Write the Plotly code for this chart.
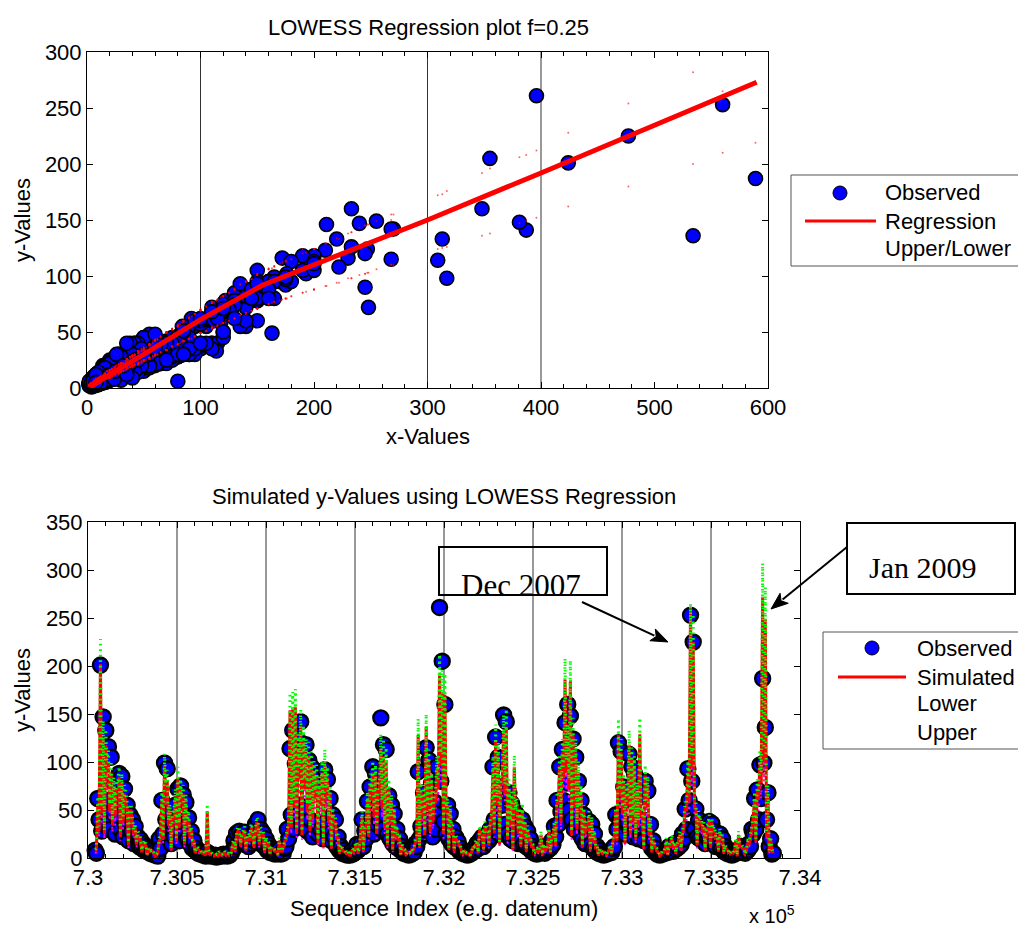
import math
import plotly.graph_objects as go

W, H = 1018, 926
SANS = "Liberation Sans, Arial, sans-serif"
SERIF = "Liberation Serif, Times New Roman, serif"

# ---------------- data ----------------
# Readings are taken on two interleaved date grids: set A every 15 days
# from day 730040, set B seven days after each A reading.

# observed response, set A
obs_y = [
    8, 62, 201, 147, 133, 116, 105, 78, 59, 88, 85, 72, 55, 45, 40, 33, 22, 19, 15, 12, 10, 8, 6,
    3, 20, 60, 99, 93, 45, 38, 55, 72, 75, 66, 58, 42, 28, 18, 10, 7,
    5, 4, 6, 4, 3, 3, 2, 3, 4, 3, 4, 5,
    18, 26, 28, 25, 27, 22, 20, 24, 35, 40, 30, 26, 20, 14, 10, 8, 7, 9, 6, 10,
    30, 114, 133, 98, 123, 142, 116, 118, 102, 95, 88, 84, 70, 78, 92, 82, 62, 45, 40, 22, 12, 8,
    5, 4, 7, 5, 14, 10, 40, 28, 59, 74, 95, 88, 60, 146, 118, 113, 65, 55, 46, 30, 20, 12,
    8, 6, 5, 7, 15,
    90, 33, 68, 115, 102, 78, 59, 95, 261, 205, 160, 55, 46, 30, 22, 17, 10,
    6, 5, 4, 6, 10, 15, 18, 22, 20, 25, 30,
    95, 126, 105, 74, 149, 142, 68, 57, 49, 45, 38, 40, 33, 28, 20, 12,
    8, 6, 10, 12, 8, 14, 18,
    33, 60, 95, 113, 141, 160, 148, 124, 105, 80, 60, 45, 30, 38, 35, 25, 12, 8,
    5, 4, 6, 8, 10,
    45, 120, 111, 74, 60, 108, 95, 88, 62, 72, 40, 80, 70, 35, 18, 10,
    5, 4, 6, 8, 12, 10, 15, 12, 18, 25, 51,
    93, 253, 225, 51, 40, 35, 30, 28, 38, 36, 28, 22, 25, 20, 12, 8, 6, 5, 7, 9, 12, 10, 8,
    15, 30, 62, 71, 97, 187, 136, 68, 20, 5,
]
# observed response, set B
obs_y2 = [
    5, 40, 28, 35, 60, 30, 48, 25, 40, 30, 22, 35, 18, 28, 15, 20, 12, 10, 8, 7, 5, 4, 3,
    2, 10, 25, 40, 20, 15, 22, 30, 18, 35, 25, 20, 15, 10, 8, 5, 4,
    3, 2, 3, 2, 2, 1, 2, 2, 3, 2, 3,
    8, 12, 15, 18, 16, 14, 12, 15, 18, 22, 16, 14, 12, 8, 6, 5, 4, 5, 4, 5, 12,
    20, 45, 30, 40, 55, 35, 50, 28, 40, 22, 35, 25, 30, 20, 38, 25, 18, 22, 12, 8, 5, 4,
    3, 3, 4, 6, 8, 15, 12, 20, 30, 40, 25, 35, 40, 30, 45, 25, 20, 15, 12, 10, 8, 5, 4, 3, 4, 6,
    12, 20, 25, 35, 28, 40, 22, 30, 45, 80, 38, 25, 20, 15, 12, 10, 7, 5, 4, 3, 4, 6, 8, 10, 14, 12, 16, 18,
    22, 40, 30, 25, 55, 35, 25, 20, 18, 22, 15, 20, 14, 12, 10, 7, 5, 4, 5, 6, 5, 8, 10, 14,
    22, 35, 48, 60, 78, 50, 40, 30, 35, 25, 20, 15, 18, 14, 10, 7, 5, 4, 3, 4, 5, 6,
    12, 30, 40, 28, 25, 35, 30, 22, 28, 20, 25, 18, 30, 15, 10, 7, 4, 3, 4, 5, 6, 8, 7, 9, 11, 14, 20, 30,
    60, 80, 30, 22, 20, 18, 15, 20, 18, 15, 12, 14, 10, 7, 5, 4, 3, 4, 6, 7, 6, 5, 8, 12, 25, 30, 40, 62, 99, 40, 12, 4,
]

# predictor value paired with each observation
pred_x = [
    12, 92, 424, 240, 220, 172, 150, 122, 118, 140, 130, 110, 84, 80, 60, 52, 40, 30, 22, 20, 16, 12, 9,
    5, 30, 100, 165, 135, 80, 70, 105, 140, 120, 110, 95, 70, 48, 28, 18, 12,
    8, 6, 80, 7, 5, 4, 3, 5, 6, 5, 7, 8,
    28, 40, 45, 36, 48, 34, 30, 42, 50, 58, 46, 40, 32, 24, 16, 14, 10, 30, 10, 28,
    50, 309, 313, 317, 210, 270, 230, 200, 193, 170, 150, 145, 125, 150, 175, 140, 110, 75, 62, 36, 20, 12,
    8, 6, 12, 8, 25, 16, 70, 46, 100, 130, 150, 145, 115, 211, 190, 180, 120, 95, 80, 50, 32, 20,
    13, 10, 8, 11, 30,
    245, 114, 110, 268, 176, 130, 95, 160, 396, 355, 348, 90, 80, 50, 36, 28, 16,
    10, 8, 7, 10, 18, 28, 50, 40, 55, 45, 60,
    160, 233, 190, 130, 255, 268, 120, 100, 163, 90, 75, 82, 60, 50, 32, 20,
    13, 10, 40, 22, 14, 45, 32,
    55, 100, 165, 200, 387, 233, 381, 247, 200, 150, 110, 80, 55, 70, 62, 42, 20, 13,
    8, 7, 10, 20, 30,
    80, 245, 200, 130, 112, 222, 180, 160, 115, 248, 75, 145, 125, 60, 30, 16,
    8, 7, 10, 30, 20, 35, 25, 22, 40, 42, 85,
    150, 560, 477, 85, 70, 60, 55, 50, 65, 60, 48, 38, 45, 34, 20, 13, 10, 8, 30, 40, 20, 16, 13,
    25, 50, 100, 120, 175, 589, 534, 110, 32, 8,
]
pred_x2 = [
    12, 45, 75, 40, 150, 80, 55, 70, 110, 35, 60, 100, 20, 80, 40, 22, 35, 9, 25, 4, 14, 10, 2,
    6, 30, 30, 110, 55, 12, 65, 28, 50, 90, 22, 55, 35, 25, 6, 14, 9,
    8, 3, 10, 6, 2, 4, 7, 3, 9, 5, 2,
    20, 10, 45, 18, 40, 12, 35, 50, 16, 60, 22, 42, 8, 22, 5, 15, 10, 3, 12, 16, 30,
    55, 50, 85, 42, 140, 38, 120, 80, 45, 65, 100, 25, 90, 18, 105, 60, 15, 58, 30, 6, 14, 8,
    9, 2, 12, 18, 6, 40, 10, 55, 35, 100, 70, 40, 115, 85, 50, 20, 60, 12, 35, 28, 4, 12, 3, 7, 11, 15,
    30, 16, 70, 38, 80, 45, 60, 95, 120, 165, 40, 75, 14, 45, 8, 28, 20, 3, 10, 6, 2, 16, 22, 6, 38, 12, 45, 20,
    65, 42, 90, 22, 135, 110, 30, 55, 14, 70, 40, 18, 38, 10, 30, 18, 4, 12, 14, 3, 10, 20, 6, 35,
    20, 95, 60, 140, 150, 120, 38, 85, 48, 75, 16, 40, 55, 12, 26, 16, 4, 11, 8, 2, 13, 5,
    35, 28, 105, 75, 24, 90, 40, 62, 30, 55, 70, 15, 85, 38, 8, 20, 12, 2, 9, 14, 4, 22, 16, 6, 30, 12, 50, 80,
    95, 160, 85, 20, 55, 45, 12, 48, 16, 42, 30, 10, 28, 6, 14, 3, 8, 10, 2, 18, 15, 4, 24, 35, 70, 26, 100, 130, 175, 35, 8, 12,
]

# LOWESS fitted (simulated) response
sim_y = [
    7, 56, 202, 126, 118, 99, 89, 74, 72, 84, 78, 67, 51, 49, 37, 32, 24, 18, 13, 12, 10, 7, 5,
    3, 18, 61, 96, 81, 49, 43, 64, 84, 72, 67, 58, 43, 29, 17, 11, 7,
    5, 4, 49, 4, 3, 3, 2, 3, 4, 3, 4, 5,
    17, 24, 27, 22, 29, 21, 18, 26, 30, 35, 28, 24, 20, 15, 10, 9, 6, 18, 6, 17,
    30, 154, 155, 157, 114, 138, 122, 110, 107, 98, 89, 86, 75, 89, 100, 84, 67, 46, 38, 22, 12, 7,
    5, 4, 7, 5, 15, 10, 43, 28, 61, 78, 89, 86, 70, 114, 106, 102, 72, 58, 49, 30, 20, 12,
    8, 6, 5, 7, 18,
    128, 69, 67, 137, 100, 78, 58, 94, 190, 173, 170, 55, 49, 30, 22, 17, 10,
    6, 5, 4, 6, 11, 17, 30, 24, 33, 27, 37,
    94, 123, 106, 78, 132, 137, 72, 61, 95, 55, 46, 50, 37, 30, 20, 12,
    8, 6, 24, 13, 9, 27, 20,
    33, 61, 96, 110, 186, 123, 184, 129, 110, 89, 67, 49, 33, 43, 38, 26, 12, 8,
    5, 4, 6, 12, 18,
    49, 128, 110, 78, 68, 118, 102, 94, 70, 129, 46, 86, 75, 37, 18, 10,
    5, 4, 6, 18, 12, 21, 15, 13, 24, 26, 52,
    89, 260, 225, 52, 43, 37, 33, 30, 40, 37, 29, 23, 27, 21, 12, 8, 6, 5, 18, 24, 12, 10, 8,
    15, 30, 61, 72, 100, 272, 249, 67, 20, 5,
]
sim_y2 = [
    8, 28, 46, 25, 89, 49, 34, 43, 67, 22, 37, 61, 13, 49, 25, 14, 22, 6, 16, 3, 9, 7, 2,
    5, 19, 19, 67, 34, 8, 40, 18, 31, 55, 14, 34, 22, 16, 5, 9, 6,
    6, 3, 7, 5, 2, 3, 5, 3, 6, 4, 2,
    13, 7, 28, 12, 25, 8, 22, 31, 11, 37, 14, 26, 6, 14, 4, 10, 7, 3, 8, 11, 19,
    34, 31, 52, 26, 83, 24, 72, 49, 28, 40, 61, 16, 55, 12, 64, 37, 10, 36, 19, 5, 9, 6,
    6, 2, 8, 12, 5, 25, 7, 34, 22, 61, 43, 25, 69, 52, 31, 13, 37, 8, 22, 18, 3, 8, 3, 5, 8, 10,
    19, 11, 43, 24, 49, 28, 37, 58, 72, 96, 25, 46, 9, 28, 6, 18, 13, 3, 7, 5, 2, 11, 14, 5, 24, 8, 28, 13,
    40, 26, 55, 14, 81, 67, 19, 34, 9, 43, 25, 12, 24, 7, 19, 12, 3, 8, 9, 3, 7, 13, 5, 22,
    13, 58, 37, 83, 89, 72, 24, 52, 30, 46, 11, 25, 34, 8, 17, 11, 3, 8, 6, 2, 9, 4,
    22, 18, 64, 46, 15, 55, 25, 38, 19, 34, 43, 10, 52, 24, 6, 13, 8, 2, 6, 9, 3, 14, 11, 5, 19, 8, 31, 49,
    58, 94, 52, 13, 34, 28, 8, 30, 11, 26, 19, 7, 18, 5, 9, 3, 6, 7, 2, 12, 10, 3, 15, 22, 43, 17, 61, 78, 100, 22, 6, 8,
]

# upper prediction bound
upper_y = [
    9, 64, 228, 143, 134, 112, 101, 84, 81, 95, 88, 76, 58, 55, 42, 36, 28, 21, 15, 14, 11, 8, 6,
    4, 21, 69, 109, 92, 56, 49, 72, 95, 82, 76, 66, 49, 33, 19, 12, 8,
    6, 5, 56, 5, 4, 3, 3, 4, 5, 4, 5, 6,
    19, 28, 31, 25, 33, 24, 21, 29, 34, 40, 32, 28, 22, 17, 11, 10, 7, 21, 7, 19,
    34, 172, 173, 176, 129, 155, 138, 124, 121, 111, 101, 97, 85, 101, 113, 95, 76, 52, 43, 25, 14, 8,
    6, 5, 8, 6, 17, 11, 49, 32, 69, 88, 101, 97, 79, 129, 124, 115, 82, 66, 55, 34, 22, 14,
    9, 7, 6, 8, 21,
    145, 78, 76, 150, 113, 88, 66, 106, 212, 196, 192, 62, 55, 34, 25, 19, 11,
    7, 6, 5, 7, 12, 19, 34, 28, 38, 31, 42,
    106, 139, 120, 88, 149, 155, 82, 69, 107, 62, 52, 57, 42, 34, 22, 14,
    9, 7, 28, 15, 10, 31, 22,
    38, 69, 108, 124, 208, 139, 206, 146, 124, 101, 76, 55, 38, 49, 43, 29, 14, 9,
    6, 5, 7, 14, 21,
    55, 145, 124, 88, 77, 133, 115, 106, 79, 146, 52, 97, 85, 42, 21, 11,
    6, 5, 7, 21, 14, 24, 17, 15, 28, 29, 59,
    101, 265, 254, 59, 49, 42, 38, 34, 45, 42, 33, 26, 31, 24, 14, 9, 7, 6, 21, 28, 14, 11, 9,
    17, 34, 69, 82, 113, 307, 282, 76, 22, 6,
]
upper_y2 = [
    10, 33, 53, 29, 102, 56, 39, 50, 77, 26, 43, 70, 16, 56, 29, 17, 26, 8, 19, 4, 11, 9, 3,
    6, 22, 22, 77, 39, 10, 46, 21, 36, 63, 17, 39, 26, 19, 6, 11, 8,
    8, 4, 9, 6, 3, 4, 7, 4, 8, 5, 3,
    16, 9, 33, 15, 29, 10, 26, 36, 13, 43, 17, 30, 8, 17, 5, 12, 9, 4, 10, 13, 22,
    39, 36, 60, 30, 95, 28, 82, 56, 33, 46, 70, 19, 63, 15, 73, 43, 12, 42, 22, 7, 11, 8,
    8, 3, 10, 15, 6, 29, 9, 39, 26, 70, 50, 29, 79, 60, 36, 16, 43, 10, 26, 21, 4, 10, 4, 7, 10, 12,
    22, 13, 50, 28, 56, 33, 43, 66, 82, 109, 29, 53, 11, 33, 8, 21, 16, 4, 9, 6, 3, 13, 17, 6, 28, 10, 33, 16,
    46, 30, 63, 17, 93, 77, 22, 39, 11, 50, 29, 15, 28, 9, 22, 15, 4, 10, 11, 4, 9, 16, 6, 26,
    16, 66, 43, 95, 102, 82, 28, 60, 35, 53, 13, 29, 39, 10, 20, 13, 4, 10, 8, 3, 11, 5,
    26, 21, 73, 53, 18, 63, 29, 44, 22, 39, 50, 12, 60, 28, 8, 16, 10, 3, 8, 11, 4, 17, 13, 6, 22, 10, 36, 56,
    66, 107, 60, 16, 39, 33, 10, 35, 13, 30, 22, 9, 21, 6, 11, 4, 8, 9, 3, 15, 12, 4, 18, 26, 50, 20, 70, 89, 114, 26, 8, 10,
]

# lower prediction bound
lower_y = [
    5, 44, 162, 101, 94, 79, 71, 59, 57, 67, 62, 53, 41, 39, 29, 25, 19, 14, 10, 9, 8, 5, 4,
    2, 14, 49, 77, 65, 39, 34, 51, 67, 58, 53, 46, 34, 23, 13, 8, 5,
    4, 3, 39, 3, 2, 2, 1, 2, 3, 2, 3, 4,
    13, 19, 21, 17, 23, 16, 14, 20, 24, 28, 22, 19, 15, 11, 8, 7, 5, 14, 5, 13,
    24, 124, 125, 126, 91, 110, 98, 88, 86, 78, 71, 69, 60, 71, 80, 67, 54, 37, 30, 18, 9, 6,
    4, 3, 6, 4, 12, 8, 34, 22, 49, 62, 71, 69, 56, 91, 85, 82, 58, 46, 39, 24, 15, 9,
    6, 5, 4, 5, 14,
    102, 55, 54, 110, 80, 62, 46, 75, 152, 138, 136, 44, 39, 24, 18, 13, 8,
    5, 4, 3, 5, 8, 13, 24, 19, 26, 21, 29,
    75, 98, 85, 62, 106, 110, 58, 49, 76, 44, 37, 40, 29, 24, 15, 9,
    6, 5, 19, 10, 7, 21, 15,
    26, 49, 77, 88, 149, 98, 147, 103, 88, 71, 54, 39, 26, 34, 30, 20, 9, 6,
    4, 3, 5, 9, 14,
    39, 102, 88, 62, 54, 94, 82, 75, 56, 103, 37, 69, 60, 29, 14, 8,
    4, 3, 5, 14, 9, 17, 12, 10, 19, 20, 42,
    71, 210, 180, 42, 34, 29, 26, 24, 32, 29, 23, 18, 21, 16, 9, 6, 5, 4, 14, 19, 9, 8, 6,
    12, 24, 49, 58, 80, 219, 200, 54, 15, 4,
]
lower_y2 = [
    6, 22, 37, 20, 71, 39, 27, 34, 54, 18, 30, 49, 10, 39, 20, 11, 18, 5, 13, 2, 7, 6, 2,
    4, 15, 15, 54, 27, 6, 32, 14, 25, 44, 11, 27, 18, 13, 4, 7, 5,
    5, 2, 6, 4, 2, 2, 4, 2, 5, 3, 2,
    10, 6, 22, 10, 20, 6, 18, 25, 9, 30, 11, 21, 5, 11, 3, 8, 6, 2, 6, 9, 15,
    27, 25, 42, 21, 66, 19, 58, 39, 22, 32, 49, 13, 44, 10, 51, 30, 8, 29, 15, 4, 7, 5,
    5, 2, 6, 10, 4, 20, 6, 27, 18, 49, 34, 20, 55, 42, 25, 10, 30, 6, 18, 14, 2, 6, 2, 4, 6, 8,
    15, 9, 34, 19, 39, 22, 30, 46, 58, 77, 20, 37, 7, 22, 5, 14, 10, 2, 6, 4, 2, 9, 11, 4, 19, 6, 22, 10,
    32, 21, 44, 11, 65, 54, 15, 27, 7, 34, 20, 10, 19, 6, 15, 10, 2, 6, 7, 2, 6, 10, 4, 18,
    10, 46, 30, 66, 71, 58, 19, 42, 24, 37, 9, 20, 27, 6, 14, 9, 2, 6, 5, 2, 7, 3,
    18, 14, 51, 37, 12, 44, 20, 30, 15, 27, 34, 8, 42, 19, 5, 10, 6, 2, 5, 7, 2, 11, 9, 4, 15, 6, 25, 39,
    46, 75, 42, 10, 27, 22, 6, 24, 9, 21, 15, 6, 14, 4, 7, 2, 5, 6, 2, 10, 8, 2, 12, 18, 34, 14, 49, 62, 80, 18, 5, 6,
]

first_day, step_days, offset_days = 730040, 15, 7

# LOWESS smooth (f = 0.25) for the scatter panel
curve_x = [3, 20, 50, 100, 130, 155, 175, 200, 300, 400, 500, 590]
curve_y = [1, 12, 30, 61, 78, 92, 100, 110, 150, 192, 235, 273]

# axis ticks
top_xticks = [0, 100, 200, 300, 400, 500, 600]
top_yticks = [0, 50, 100, 150, 200, 250, 300]
seq_tickvals = [730000, 730500, 731000, 731500, 732000, 732500, 733000, 733500, 734000]
seq_ticktext = ["7.3", "7.305", "7.31", "7.315", "7.32", "7.325", "7.33", "7.335", "7.34"]
seq_yticks = [0, 50, 100, 150, 200, 250, 300, 350]

# reference lines
top_vlines = [100, 300, 400]
seq_vlines = [730500, 731000, 731500, 732000, 732500, 733000, 733500]

set_a = [obs_y, pred_x, sim_y, upper_y, lower_y]
set_b = [obs_y2, pred_x2, sim_y2, upper_y2, lower_y2]
assert len({len(s) for s in set_a}) == 1 and len({len(s) for s in set_b}) == 1
assert len(obs_y2) == len(obs_y) - 1

# merge both grids in date order
days, obs, px_, sim, up, lo = [], [], [], [], [], []
for i in range(len(obs_y)):
    rows = [(first_day + step_days * i, [s[i] for s in set_a])]
    if i < len(obs_y2):
        rows.append((first_day + step_days * i + offset_days, [s[i] for s in set_b]))
    for d, (o, x, s, u, l) in rows:
        days.append(d); obs.append(o); px_.append(x); sim.append(s); up.append(u); lo.append(l)


def fx(p):
    return p / W


def fy(p):
    return 1 - p / H


fig = go.Figure()

# ---------- top panel: scatter + LOWESS ----------
fig.add_trace(go.Scatter(
    x=px_, y=obs, mode="markers", name="Observed", cliponaxis=False,
    marker=dict(size=14, color="#0000ff", line=dict(color="black", width=1.6)),
    xaxis="x", yaxis="y"))
fig.add_trace(go.Scatter(
    x=curve_x, y=curve_y, mode="lines", name="Regression",
    line=dict(color="#ff0000", width=5), xaxis="x", yaxis="y"))
fig.add_trace(go.Scatter(
    x=px_ + px_, y=up + lo, mode="markers", name="Upper/Lower",
    marker=dict(size=2, color="#ff0000", opacity=0.6), xaxis="x", yaxis="y"))

# ---------- bottom panel: series over datenum ----------
fig.add_trace(go.Scatter(
    x=days, y=obs, mode="markers", name="Observed", cliponaxis=False,
    marker=dict(size=15, color="#0000ff", line=dict(color="black", width=2.4)),
    xaxis="x2", yaxis="y2"))
fig.add_trace(go.Scatter(
    x=days, y=lo, mode="lines", name="Lower",
    line=dict(color="#ff00ff", width=2, dash="2px,4px"), xaxis="x2", yaxis="y2"))
fig.add_trace(go.Scatter(
    x=days, y=sim, mode="lines", name="Simulated",
    line=dict(color="#ff0000", width=3), xaxis="x2", yaxis="y2"))
fig.add_trace(go.Scatter(
    x=days, y=up, mode="lines", name="Upper",
    line=dict(color="#00ff00", width=3, dash="1.5px,4px"), xaxis="x2", yaxis="y2"))

axis_common = dict(
    showline=True, linecolor="black", linewidth=1, mirror="ticks",
    ticks="inside", ticklen=6, tickcolor="black", showgrid=False, zeroline=False,
    tickfont=dict(family=SANS, size=22, color="black"), automargin=False,
)

fig.update_layout(
    width=W, height=H, margin=dict(l=0, r=0, t=0, b=0),
    paper_bgcolor="white", plot_bgcolor="white", showlegend=False,
    font=dict(family=SANS, size=22, color="black"),
    xaxis=dict(domain=[fx(87), fx(768)], range=[0, 600], tickvals=top_xticks,
               minor=dict(ticks="inside", ticklen=4, dtick=20, tick0=0, tickcolor="black"),
               anchor="y", **axis_common),
    yaxis=dict(domain=[fy(388), fy(52)], range=[0, 300], tickvals=top_yticks,
               anchor="x", **axis_common),
    xaxis2=dict(domain=[fx(88), fx(800)], range=[730000, 734000],
                tickvals=seq_tickvals, ticktext=seq_ticktext,
                minor=dict(ticks="inside", ticklen=4, dtick=100, tick0=730000, tickcolor="black"),
                anchor="y2", **axis_common),
    yaxis2=dict(domain=[fy(858), fy(522)], range=[0, 350], tickvals=seq_yticks,
                anchor="x2", **axis_common),
)

shapes = []
for v in top_vlines:
    shapes.append(dict(type="line", xref="x", yref="y domain", x0=v, x1=v, y0=0, y1=1,
                       line=dict(color="#333333", width=1), layer="below"))
for v in seq_vlines:
    shapes.append(dict(type="line", xref="x2", yref="y2 domain", x0=v, x1=v, y0=0, y1=1,
                       line=dict(color="#333333", width=1), layer="below"))

# legend frames and keys
shapes.append(dict(type="rect", xref="paper", yref="paper", x0=fx(791), x1=fx(1030),
                   y0=fy(266), y1=fy(175), line=dict(color="#555555", width=1), fillcolor="white"))
shapes.append(dict(type="circle", xref="paper", yref="paper", x0=fx(833), x1=fx(847),
                   y0=fy(200), y1=fy(186), fillcolor="#0000ff", line=dict(color="black", width=1)))
shapes.append(dict(type="line", xref="paper", yref="paper", x0=fx(805), x1=fx(876),
                   y0=fy(221), y1=fy(221), line=dict(color="#ff0000", width=3)))

shapes.append(dict(type="rect", xref="paper", yref="paper", x0=fx(823), x1=fx(1030),
                   y0=fy(749), y1=fy(632), line=dict(color="#555555", width=1), fillcolor="white"))
shapes.append(dict(type="circle", xref="paper", yref="paper", x0=fx(865), x1=fx(879),
                   y0=fy(655), y1=fy(641), fillcolor="#0000ff", line=dict(color="black", width=1)))
shapes.append(dict(type="line", xref="paper", yref="paper", x0=fx(838), x1=fx(906),
                   y0=fy(677), y1=fy(677), line=dict(color="#ff0000", width=3)))

# callout boxes
shapes.append(dict(type="rect", xref="paper", yref="paper", x0=fx(439), x1=fx(607),
                   y0=fy(595), y1=fy(547), line=dict(color="black", width=2)))
shapes.append(dict(type="rect", xref="paper", yref="paper", x0=fx(847), x1=fx(1015),
                   y0=fy(594), y1=fy(523), line=dict(color="black", width=2)))


def arrow(tip, tail, head_len=17, half_w=6.5):
    dx, dy = tip[0] - tail[0], tip[1] - tail[1]
    n = math.hypot(dx, dy)
    ux, uy = dx / n, dy / n
    bx, by = tip[0] - head_len * ux, tip[1] - head_len * uy
    nx, ny = -uy, ux
    shapes.append(dict(type="line", xref="paper", yref="paper",
                       x0=fx(tail[0]), y0=fy(tail[1]), x1=fx(bx + 2 * ux), y1=fy(by + 2 * uy),
                       line=dict(color="black", width=2)))
    pts = [(tip[0], tip[1]), (bx + half_w * nx, by + half_w * ny),
           (bx + 4 * ux, by + 4 * uy), (bx - half_w * nx, by - half_w * ny)]
    path = "M " + " L ".join(f"{fx(a):.5f} {fy(b):.5f}" for a, b in pts) + " Z"
    shapes.append(dict(type="path", xref="paper", yref="paper", path=path,
                       fillcolor="black", line=dict(color="black", width=1)))


arrow((668, 642), (582, 602))
arrow((771, 609), (847, 547))

fig.update_layout(shapes=shapes)

ann = []


def text(s, x, y, size=22, family=SANS, xanchor="center", angle=0):
    ann.append(dict(text=s, x=fx(x), y=fy(y), xref="paper", yref="paper", showarrow=False,
                    xanchor=xanchor, yanchor="middle", textangle=angle,
                    font=dict(family=family, size=size, color="black")))


text("LOWESS Regression plot f=0.25", 428, 27)
text("x-Values", 428, 437)
text("y-Values", 22, 220, angle=-90)
text("Simulated y-Values using LOWESS Regression", 444, 496)
text("Sequence Index (e.g. datenum)", 444, 908)
text("y-Values", 22, 690, angle=-90)
text("x 10<sup>5</sup>", 772, 914, size=20)

text("Observed", 883, 193, xanchor="left")
text("Regression", 883, 221, xanchor="left")
text("Upper/Lower", 883, 248, xanchor="left")

text("Observed", 915, 648, xanchor="left")
text("Simulated", 915, 677, xanchor="left")
text("Lower", 915, 703, xanchor="left")
text("Upper", 915, 732, xanchor="left")

text("Dec 2007", 521, 585, size=31, family=SERIF)
text("Jan 2009", 923, 567, size=30, family=SERIF)

fig.update_layout(annotations=ann)

fig.write_html("out.html")
